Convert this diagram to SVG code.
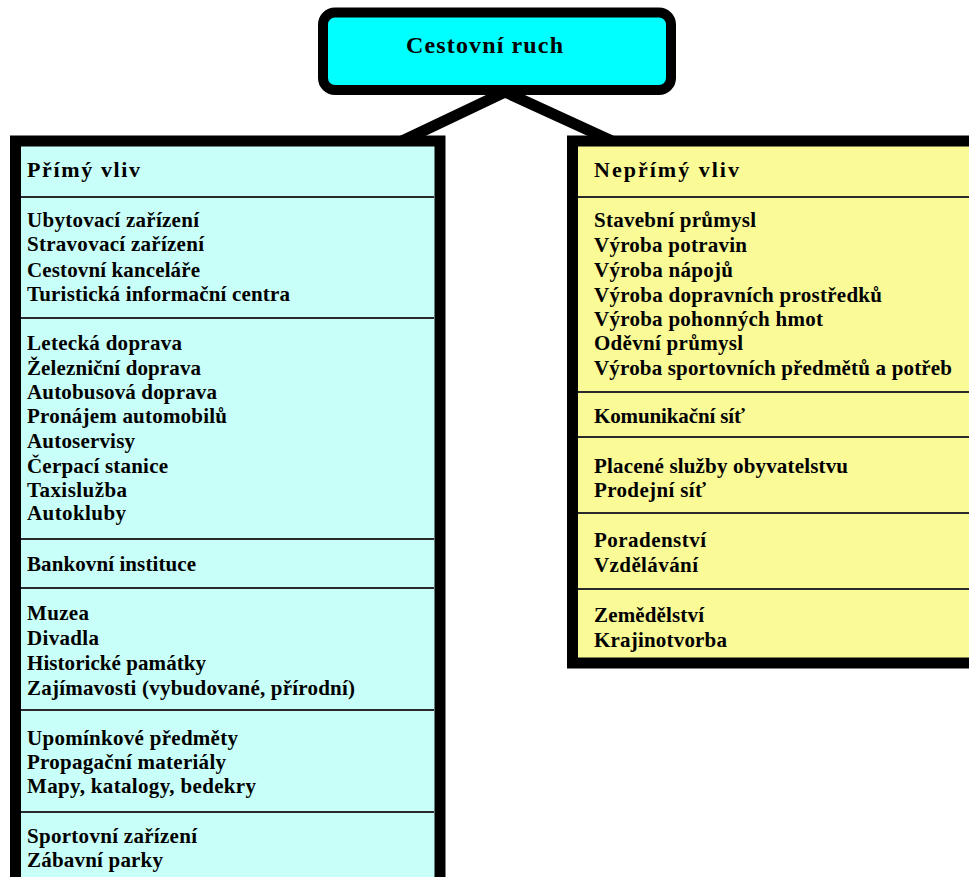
<svg xmlns="http://www.w3.org/2000/svg" width="969" height="877" viewBox="0 0 969 877">
<style>
.t{font-family:"Liberation Serif","Times New Roman",serif;font-weight:bold;font-size:21px;fill:#000}
.h{font-family:"Liberation Serif","Times New Roman",serif;font-weight:bold;font-size:22px;fill:#000}
.ttl{font-family:"Liberation Serif","Times New Roman",serif;font-weight:bold;font-size:24px;fill:#000}
.div{stroke:#2a2a2a;stroke-width:2}
.frame{stroke:#000;stroke-width:11}
.con{stroke:#000;stroke-width:11;fill:none;stroke-linejoin:miter}
</style>
<rect width="969" height="877" fill="#fff"/>
<g id="connectors">
<polyline class="con" points="402,141 505,92 612,141"/>
</g>
<g id="root">
<rect x="323" y="12.5" width="348" height="77.5" rx="12" fill="#00FFFF" stroke="#000" stroke-width="10"/>
<text class="ttl" x="406" y="53" textLength="157" lengthAdjust="spacing">Cestovní ruch</text>
</g>
<g id="primy">
<rect class="frame" x="15.5" y="141" width="424.5" height="745" fill="#C8FFF8"/>
<line class="div" x1="21" y1="197" x2="434" y2="197"/>
<line class="div" x1="21" y1="318" x2="434" y2="318"/>
<line class="div" x1="21" y1="539" x2="434" y2="539"/>
<line class="div" x1="21" y1="588" x2="434" y2="588"/>
<line class="div" x1="21" y1="710" x2="434" y2="710"/>
<line class="div" x1="21" y1="812" x2="434" y2="812"/>
<text class="h" x="27" y="177" textLength="113" lengthAdjust="spacing">Přímý vliv</text>
<text class="t" x="27" y="227" textLength="172" lengthAdjust="spacing">Ubytovací zařízení</text>
<text class="t" x="27" y="251" textLength="177" lengthAdjust="spacing">Stravovací zařízení</text>
<text class="t" x="27" y="277" textLength="173" lengthAdjust="spacing">Cestovní kanceláře</text>
<text class="t" x="27" y="301" textLength="263" lengthAdjust="spacing">Turistická informační centra</text>
<text class="t" x="27" y="350" textLength="155" lengthAdjust="spacing">Letecká doprava</text>
<text class="t" x="27" y="375" textLength="174" lengthAdjust="spacing">Železniční doprava</text>
<text class="t" x="27" y="399" textLength="190" lengthAdjust="spacing">Autobusová doprava</text>
<text class="t" x="27" y="423" textLength="200" lengthAdjust="spacing">Pronájem automobilů</text>
<text class="t" x="27" y="448" textLength="108" lengthAdjust="spacing">Autoservisy</text>
<text class="t" x="27" y="473" textLength="141" lengthAdjust="spacing">Čerpací stanice</text>
<text class="t" x="27" y="497" textLength="100" lengthAdjust="spacing">Taxislužba</text>
<text class="t" x="27" y="520" textLength="99" lengthAdjust="spacing">Autokluby</text>
<text class="t" x="27" y="571" textLength="169" lengthAdjust="spacing">Bankovní instituce</text>
<text class="t" x="27" y="620" textLength="62" lengthAdjust="spacing">Muzea</text>
<text class="t" x="27" y="645" textLength="72" lengthAdjust="spacing">Divadla</text>
<text class="t" x="27" y="670" textLength="179" lengthAdjust="spacing">Historické památky</text>
<text class="t" x="27" y="695" textLength="328" lengthAdjust="spacing">Zajímavosti (vybudované, přírodní)</text>
<text class="t" x="27" y="745" textLength="211" lengthAdjust="spacing">Upomínkové předměty</text>
<text class="t" x="27" y="769" textLength="199" lengthAdjust="spacing">Propagační materiály</text>
<text class="t" x="27" y="793" textLength="229" lengthAdjust="spacing">Mapy, katalogy, bedekry</text>
<text class="t" x="27" y="843" textLength="170" lengthAdjust="spacing">Sportovní zařízení</text>
<text class="t" x="27" y="867" textLength="136" lengthAdjust="spacing">Zábavní parky</text>
</g>
<g id="neprimy">
<rect class="frame" x="572.5" y="141" width="420" height="522" fill="#FAFA96"/>
<line class="div" x1="578" y1="197" x2="969" y2="197"/>
<line class="div" x1="578" y1="392" x2="969" y2="392"/>
<line class="div" x1="578" y1="437" x2="969" y2="437"/>
<line class="div" x1="578" y1="513" x2="969" y2="513"/>
<line class="div" x1="578" y1="589" x2="969" y2="589"/>
<text class="h" x="594" y="177" textLength="145" lengthAdjust="spacing">Nepřímý vliv</text>
<text class="t" x="594" y="227" textLength="162" lengthAdjust="spacing">Stavební průmysl</text>
<text class="t" x="594" y="252" textLength="153" lengthAdjust="spacing">Výroba potravin</text>
<text class="t" x="594" y="277" textLength="139" lengthAdjust="spacing">Výroba nápojů</text>
<text class="t" x="594" y="302" textLength="288" lengthAdjust="spacing">Výroba dopravních prostředků</text>
<text class="t" x="594" y="326" textLength="229" lengthAdjust="spacing">Výroba pohonných hmot</text>
<text class="t" x="594" y="350" textLength="149" lengthAdjust="spacing">Oděvní průmysl</text>
<text class="t" x="594" y="375" textLength="358" lengthAdjust="spacing">Výroba sportovních předmětů a potřeb</text>
<text class="t" x="594" y="423" textLength="151" lengthAdjust="spacing">Komunikační síť</text>
<text class="t" x="594" y="473" textLength="254" lengthAdjust="spacing">Placené služby obyvatelstvu</text>
<text class="t" x="594" y="497" textLength="112" lengthAdjust="spacing">Prodejní síť</text>
<text class="t" x="594" y="547" textLength="112" lengthAdjust="spacing">Poradenství</text>
<text class="t" x="594" y="572" textLength="104" lengthAdjust="spacing">Vzdělávání</text>
<text class="t" x="594" y="622" textLength="110" lengthAdjust="spacing">Zemědělství</text>
<text class="t" x="594" y="647" textLength="133" lengthAdjust="spacing">Krajinotvorba</text>
</g>
</svg>
